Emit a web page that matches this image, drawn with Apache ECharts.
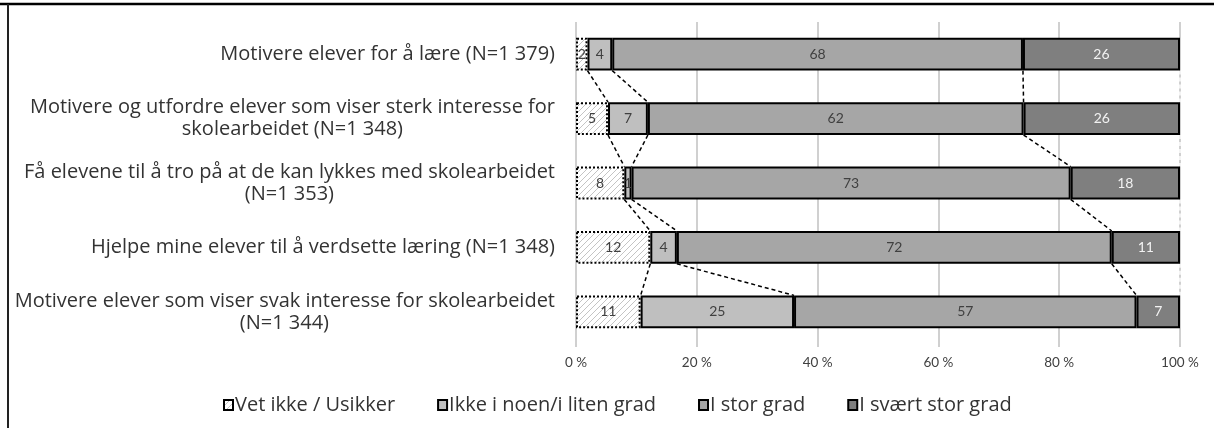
<!DOCTYPE html>
<html><head><meta charset="utf-8">
<script src="https://cdn.jsdelivr.net/npm/echarts@6/dist/echarts.min.js"></script>
<style>html,body{margin:0;padding:0;background:#fff}#c{width:1214px;height:428px}</style>
</head><body><div id="c"></div>
<script>
const categories = [
  'Motivere elever for å lære (N=1 379)',
  'Motivere og utfordre elever som viser sterk interesse for\nskolearbeidet (N=1 348)',
  'Få elevene til å tro på at de kan lykkes med skolearbeidet\n(N=1 353)',
  'Hjelpe mine elever til å verdsette læring (N=1 348)',
  'Motivere elever som viser svak interesse for skolearbeidet\n(N=1 344)'
];
const seriesNames = ['Vet ikke / Usikker', 'Ikke i noen/i liten grad', 'I stor grad', 'I svært stor grad'];
const vetIkke   = [1.9, 5.3, 8.0, 12.3, 10.7];
const litenGrad = [4.1, 6.6, 1.2, 4.4, 25.4];
const storGrad  = [68.0, 62.2, 72.7, 72.0, 56.7];
const sværtStor = [26.0, 25.9, 18.1, 11.3, 7.2];
const xTickLabels = ['0 %', '20 %', '40 %', '60 %', '80 %', '100 %'];

const allValues = [vetIkke, litenGrad, storGrad, sværtStor];
const FONT = 'Open Sans';
const LABEL_SIZE = 20;
const BAR_RATIO = 0.51;

// hatch pattern
const pc = document.createElement('canvas');
pc.width = 6; pc.height = 6;
const g = pc.getContext('2d');
g.fillStyle = '#ffffff'; g.fillRect(0, 0, 6, 6);
g.strokeStyle = '#c4c4c4'; g.lineWidth = 1;
g.beginPath(); g.moveTo(0, 6); g.lineTo(6, 0); g.moveTo(-1, 1); g.lineTo(1, -1); g.moveTo(5, 7); g.lineTo(7, 5); g.stroke();

const fills = [{ image: pc, repeat: 'repeat' }, '#bfbfbf', '#a6a6a6', '#7f7f7f'];
const labelColors = ['#404040', '#404040', '#404040', '#f2f2f2'];

// measure label lines so multi-line labels are centred within their (right-aligned) block
const mc = document.createElement('canvas').getContext('2d');
mc.font = LABEL_SIZE + 'px "' + FONT + '"';
const rich = {};
const labelFmt = categories.map((c, i) => {
  const lines = c.split('\n');
  const ws = lines.map(l => mc.measureText(l).width);
  const maxW = Math.max(...ws);
  return lines.map((l, j) => {
    const name = 'l' + i + '_' + j;
    rich[name] = {
      padding: [0, Math.round((maxW - ws[j]) / 2), 0, 0],
      fontFamily: FONT, fontSize: LABEL_SIZE, color: '#333', lineHeight: 22
    };
    return '{' + name + '|' + l + '}';
  }).join('\n');
});

// connector data between consecutive bars
const connData = [];
for (let i = 0; i < categories.length - 1; i++) {
  let c1 = 0, c2 = 0;
  for (let k = 0; k < allValues.length; k++) {
    c1 += allValues[k][i]; c2 += allValues[k][i + 1];
    connData.push([c1, i, c2, i + 1, k === allValues.length - 1 ? 1 : 0]);
  }
}

const series = allValues.map((vals, k) => ({
  name: seriesNames[k],
  type: 'bar',
  stack: 'total',
  barWidth: (BAR_RATIO * 100) + '%',
  data: vals,
  z: 3,
  itemStyle: {
    color: fills[k],
    borderColor: '#000',
    borderWidth: 2,
    borderType: k === 0 ? [2, 2] : 'solid'
  },
  label: {
    show: true,
    position: 'inside',
    formatter: p => String(Math.round(p.value)),
    color: labelColors[k],
    fontFamily: 'Lato',
    fontSize: 14
  },
  emphasis: { disabled: true }
}));

series.push({
  type: 'custom',
  name: 'connectors',
  data: connData,
  encode: { x: [0, 2], y: [1, 3] },
  z: 2,
  silent: true,
  renderItem: (params, api) => {
    const p1 = api.coord([api.value(0), api.value(1)]);
    const p2 = api.coord([api.value(2), api.value(3)]);
    const band = api.size([0, 1])[1];
    const half = band * BAR_RATIO / 2;
    return {
      type: 'line',
      shape: { x1: p1[0], y1: p1[1] + half, x2: p2[0], y2: p2[1] - half },
      style: { stroke: api.value(4) ? '#ffffff' : '#000000', lineWidth: 1.5, lineDash: [4, 3] }
    };
  }
});

const chart = echarts.init(document.getElementById('c'), null, { renderer: 'canvas' });
chart.setOption({
  animation: false,
  backgroundColor: '#ffffff',
  grid: { left: 576, right: 34, top: 22, bottom: 84, containLabel: false },
  xAxis: {
    type: 'value', min: 0, max: 100, interval: 20,
    axisLine: { show: false },
    axisTick: { show: true, length: 3, lineStyle: { color: '#c0c0c0', width: 1.5 } },
    splitLine: { show: true, lineStyle: { color: '#c0c0c0', width: 1.5 } },
    axisLabel: {
      formatter: v => xTickLabels[Math.round(v / 20)],
      color: '#404040', fontFamily: 'Lato', fontSize: 13.5, margin: 12
    }
  },
  yAxis: {
    type: 'category', inverse: true, data: categories,
    axisLine: { show: false }, axisTick: { show: false },
    axisLabel: {
      margin: 21, align: 'right',
      formatter: (v, i) => labelFmt[i],
      rich: rich,
      color: '#333', fontFamily: FONT, fontSize: LABEL_SIZE, lineHeight: 22
    }
  },
  legend: {
    data: seriesNames,
    top: 389, left: 218,
    icon: 'rect', itemWidth: 9, itemHeight: 10, itemGap: 42,
    textStyle: { color: '#333', fontFamily: FONT, fontSize: LABEL_SIZE, lineHeight: 22, padding: [0, 0, 0, -3] },
    selectedMode: false
  },
  graphic: [
    { type: 'line', silent: true, shape: { x1: 0, y1: 4, x2: 1214, y2: 4 }, style: { stroke: '#000', lineWidth: 2.5 } },
    { type: 'line', silent: true, shape: { x1: 8, y1: 4, x2: 8, y2: 428 }, style: { stroke: '#222', lineWidth: 2 } }
  ],
  series: series
});
</script>
</body></html>
